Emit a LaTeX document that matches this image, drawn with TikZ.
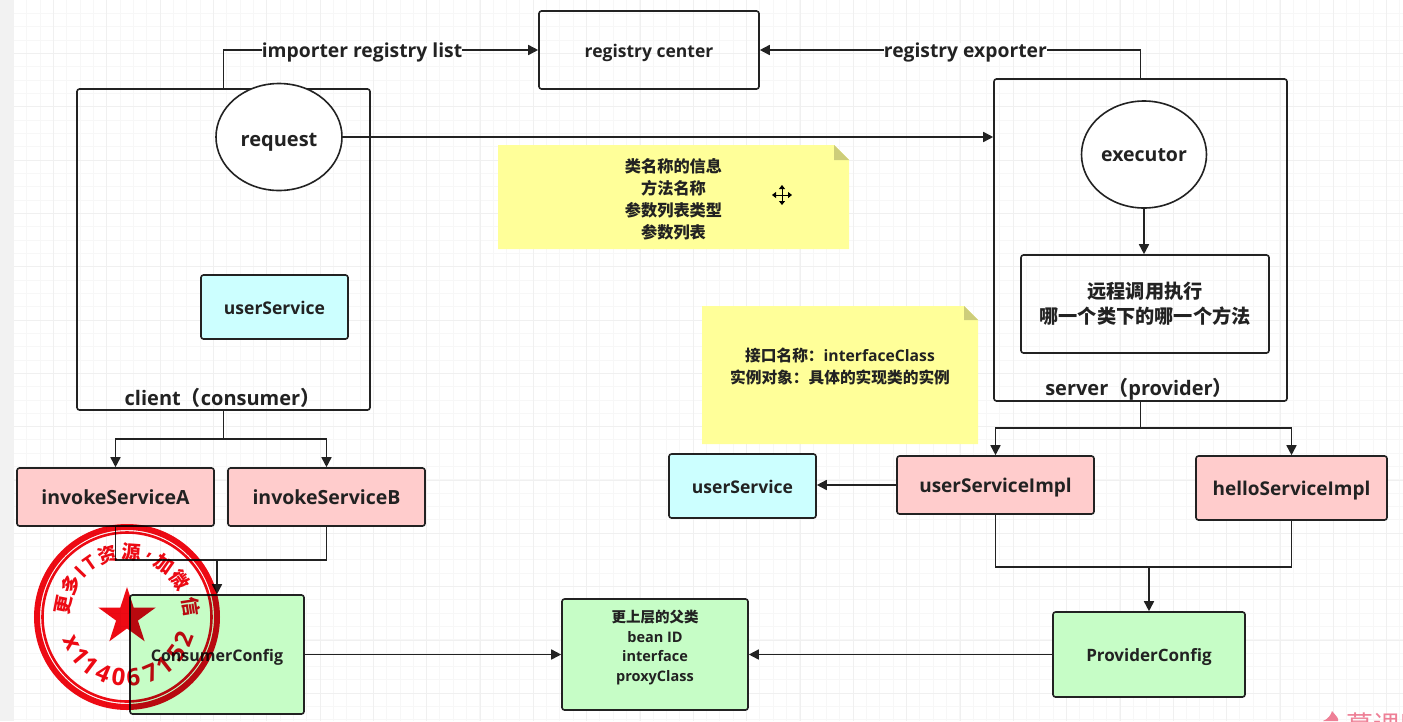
\documentclass[tikz,border=0pt]{standalone}
\usepackage{fontspec}
\setmainfont{Open Sans}
\newfontfamily\zhfont{Noto Sans CJK SC}
\newcommand{\zh}[1]{{\zhfont\bfseries #1}}
\usetikzlibrary{arrows.meta, shapes.geometric}
\definecolor{linecol}{HTML}{222222}
\definecolor{pinkcol}{HTML}{FFCCCC}
\definecolor{cyancol}{HTML}{CCFFFF}
\definecolor{greencol}{HTML}{C6FDC6}
\definecolor{notecol}{HTML}{FFFF99}
\definecolor{foldcol}{HTML}{CDCD7A}
\definecolor{stampcol}{HTML}{EE0A14}
\definecolor{logocol}{HTML}{EE7F96}
\tikzset{
    sized/.style = {font=\fontsize{#1}{25}\selectfont\bfseries},
    single/.style = {text height=14, text depth=0},
    box/.style = {draw=linecol, line width=1.6, rounded corners=2.5, inner sep=0, align=center, text=linecol, sized=18},
    pinkbox/.style = {box, single, fill=pinkcol},
    cyanbox/.style = {box, single, fill=cyancol},
    greenbox/.style = {box, fill=greencol},
    roundnode/.style = {box, single, ellipse, fill=white},
    textnode/.style = {inner sep=0, align=center, text=linecol, sized=19.3},
    notetext/.style = {inner sep=0, align=center, text=linecol, font=\fontsize{16.2}{22}\selectfont\bfseries},
    conn/.style = {draw=linecol, line width=1.6},
    arr/.style = {conn, -{Triangle[length=10, width=10]}},
    stampchar/.style = {inner sep=0, text=stampcol},
}

\begin{document}
\begin{tikzpicture}[x=1pt, y=-1pt]
        \useasboundingbox (0,0) rectangle (1403,721);
        \clip (0,0) rectangle (1403,721);
        % page and grid
        \fill[white] (0,0) rectangle (1403,721);
        \foreach \i in {2,...,105}
            \draw[black!3, line width=0.8] (\i*13.33,0) -- (\i*13.33,721);
        \foreach \i in {1,...,54}
            \draw[black!3, line width=0.8] (14,\i*13.33) -- (1403,\i*13.33);
        \foreach \i in {1,...,26}
            \draw[black!6, line width=0.8] (\i*53.33,0) -- (\i*53.33,721);
        \foreach \i in {1,...,13}
            \draw[black!6, line width=0.8] (14,\i*53.33) -- (1403,\i*53.33);
        \fill[black!5] (0,0) rectangle (14,721);

        % sticky notes
        \fill[notecol] (498,145) -- (834,145) -- (849,160) -- (849,249) -- (498,249) -- cycle;
        \fill[foldcol] (834,145) -- (849,160) -- (834,160) -- cycle;
        \fill[notecol] (702,306) -- (964,306) -- (978,320) -- (978,444) -- (702,444) -- cycle;
        \fill[foldcol] (964,306) -- (978,320) -- (964,320) -- cycle;
        \node[notetext] (noteInfo) at (673.5,199.5) {\zh{类名称的信息}\\\zh{方法名称}\\\zh{参数列表类型}\\\zh{参数列表}};
        \node[notetext, font=\fontsize{15.7}{22}\selectfont\bfseries] (noteImpl) at (840,366) {\zh{接口名称：}interfaceClass\\\zh{实例对象：具体的实现类的实例}};

        % boxes
        \node[box, single, sized=17.5, minimum width=220, minimum height=78] (registry) at (649,50) {registry center};
        \node[box, minimum width=293, minimum height=321] (client) at (223.5,249.5) {};
        \node[box, minimum width=293, minimum height=322] (server) at (1140.5,240) {};
        \node[roundnode, sized=20, text height=18, minimum width=126, minimum height=107] (request) at (279,137) {request};
        \node[roundnode, sized=19.5, minimum width=125, minimum height=107] (executor) at (1144,154.5) {executor};
        \node[box, sized=19.2, minimum width=248, minimum height=98] (remote) at (1145,304) {\zh{远程调用执行}\\\zh{哪一个类下的哪一个方法}};
        \node[cyanbox, sized=17.5, minimum width=147, minimum height=64] (userServiceA) at (274.5,307) {userService};
        \node[textnode, sized=20] (clientLabel) at (222.5,398) {client\zh{（}consumer\zh{）}};
        \node[textnode, sized=20] (serverLabel) at (1139,389) {server\zh{（}provider\zh{）}};
        \node[pinkbox, sized=19.5, minimum width=197, minimum height=58] (invokeA) at (115.5,497) {invokeServiceA};
        \node[pinkbox, sized=19.5, minimum width=197, minimum height=58] (invokeB) at (326.5,497) {invokeServiceB};
        \node[cyanbox, sized=17.5, minimum width=147, minimum height=64] (userServiceB) at (742.5,486) {userService};
        \node[pinkbox, sized=19, minimum width=197, minimum height=58] (userImpl) at (995.5,485) {userServiceImpl};
        \node[pinkbox, sized=19, minimum width=191, minimum height=64] (helloImpl) at (1291.5,488) {helloServiceImpl};
        \node[greenbox, single, sized=16, minimum width=174, minimum height=119] (consumerConfig) at (217,654.5) {ConsumerConfig};
        \node[greenbox, minimum width=186, minimum height=111] (parent) at (655,654.5) {};
        \node[textnode, font=\fontsize{14.5}{19.5}\selectfont\bfseries] (parentText) at (655,647.5) {\zh{更上层的父类}\\bean ID\\interface\\proxyClass};
        \node[greenbox, single, sized=17, minimum width=192, minimum height=85] (providerConfig) at (1149,654.5) {ProviderConfig};

        % fork points
        \coordinate (clientFork) at (223.5,439);
        \coordinate (serverFork) at (1140.5,428);
        \coordinate (consumerFork) at (217,560);
        \coordinate (providerFork) at (1149,567);

        % connectors
        \draw[arr] (client.north) |- node[pos=0.72, fill=white, textnode, single] (importerLabel) {importer registry list} (registry.west);
        \draw[arr] (server.north) |- node[pos=0.73, fill=white, textnode, single] (exporterLabel) {registry exporter} (registry.east);
        \draw[arr] (request.east) -- (request.east -| server.west);
        \draw[arr] (executor.south) -- (executor.south |- remote.north);
        \draw[conn] (client.south) -- (clientFork);
        \draw[arr] (clientFork) -| (invokeA.north);
        \draw[arr] (clientFork) -| (invokeB.north);
        \draw[conn] (invokeA.south) |- (consumerFork);
        \draw[conn] (invokeB.south) |- (consumerFork);
        \draw[arr] (consumerFork) -- (consumerConfig.north);
        \draw[arr] (consumerConfig.east) -- (parent.west);
        \draw[arr] (providerConfig.west) -- (parent.east);
        \draw[conn] (server.south) -- (serverFork);
        \draw[arr] (serverFork) -| (userImpl.north);
        \draw[arr] (serverFork) -| (helloImpl.north);
        \draw[arr] (userImpl.west) -- (userImpl.west -| userServiceB.east);
        \draw[conn] (userImpl.south) |- (providerFork);
        \draw[conn] (helloImpl.south) |- (providerFork);
        \draw[arr] (providerFork) -- (providerConfig.north);

        % move cursor
        \draw[black, line width=1, {Triangle[length=4, width=6]}-{Triangle[length=4, width=6]}] (772,195) -- (792,195);
        \draw[black, line width=1, {Triangle[length=4, width=6]}-{Triangle[length=4, width=6]}] (782,185) -- (782,205);

        % logo in the corner
        \fill[logocol] (1332,711) .. controls (1336,716) and (1339,718) .. (1338,721) -- (1323,721) .. controls (1328,719) and (1331,715) .. cycle;
        \node[anchor=north west, inner sep=0, text=logocol, font=\zhfont\fontsize{27}{27}\selectfont] (logoText) at (1346,713) {慕课网};

        % stamp
        \begin{scope}[shift={(127,617)}, y=1pt, blend mode=multiply]
            \draw[stampcol, line width=6] (0,0) circle (90);
            \draw[stampcol, line width=2.6] (0,0) circle (84.5);
            \node[star, star points=5, star point ratio=2.618, fill=stampcol, inner sep=0, minimum size=60] (stampStar) at (0,0) {};
            \foreach \ch/\ang in {更/169, 多/150, 资/107, 源/86, 加/55, 微/35, 信/9}
                \node[stampchar, font=\zhfont\bfseries\fontsize{19}{19}\selectfont, rotate=\ang-90] (stamp\ang) at (\ang:65) {\ch};
            \foreach \ch/\ang in {I/136, T/125, {,}/70}
                \node[stampchar, font=\bfseries\fontsize{20}{20}\selectfont, rotate=\ang-90] (stamp\ang) at (\ang:65) {\ch};
            \foreach \ch/\ang in {x/205, 1/220, 1/233, 4/247, 0/262, 6/276, 7/293, 1/308, 5/324, 2/339}
                \node[stampchar, font=\bfseries\fontsize{24}{24}\selectfont, rotate=\ang+90] (stamp\ang) at (\ang:61) {\ch};
        \end{scope}
    \end{tikzpicture}
\end{document}
